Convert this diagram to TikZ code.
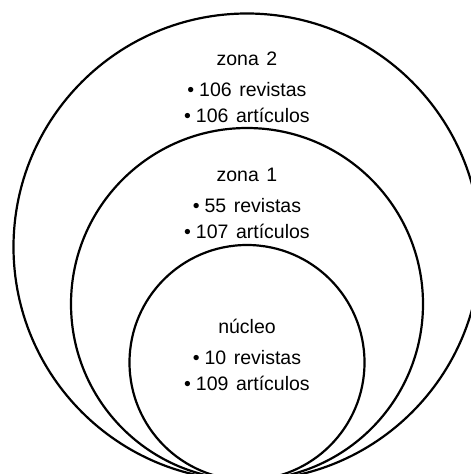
\documentclass[tikz,border=0pt]{standalone}
\usepackage{fontspec}
\setmainfont[WordSpace=1.4]{Liberation Sans}
\usepackage{tikz}
\newcommand{\zonalabel}[5]{% name, baseline y, title, revistas, articulos
  \node[lbl] (#1-t) at (247,#2) {#3};
  \node[lbl] (#1-r) at (247,#2+31) {•\hspace{0.25em}#4 revistas};
  \node[lbl] (#1-a) at (247,#2+57) {•\hspace{0.25em}#5 artículos};
}

\begin{document}
\begin{tikzpicture}[x=1pt,y=-1pt,
    ring/.style={draw,circle,line width=2.2pt,inner sep=0pt},
    lbl/.style={anchor=base,inner sep=0pt,font=\fontsize{19.5}{22}\selectfont}]
% page is 471 x 474, circles run off the right and bottom edges
\useasboundingbox (0,0) rectangle (471,474);
\clip (0,0) rectangle (471,474);

\node[ring,minimum size=467pt] (zona2) at (247,247) {};
\node[ring,minimum size=352pt] (zona1) at (247,304) {};
\node[ring,minimum size=235pt] (nucleo) at (247,362.5) {};

\zonalabel{z2}{65}{zona 2}{106}{106}
\zonalabel{z1}{181}{zona 1}{55}{107}
\zonalabel{nu}{333}{núcleo}{10}{109}
\end{tikzpicture}
\end{document}
